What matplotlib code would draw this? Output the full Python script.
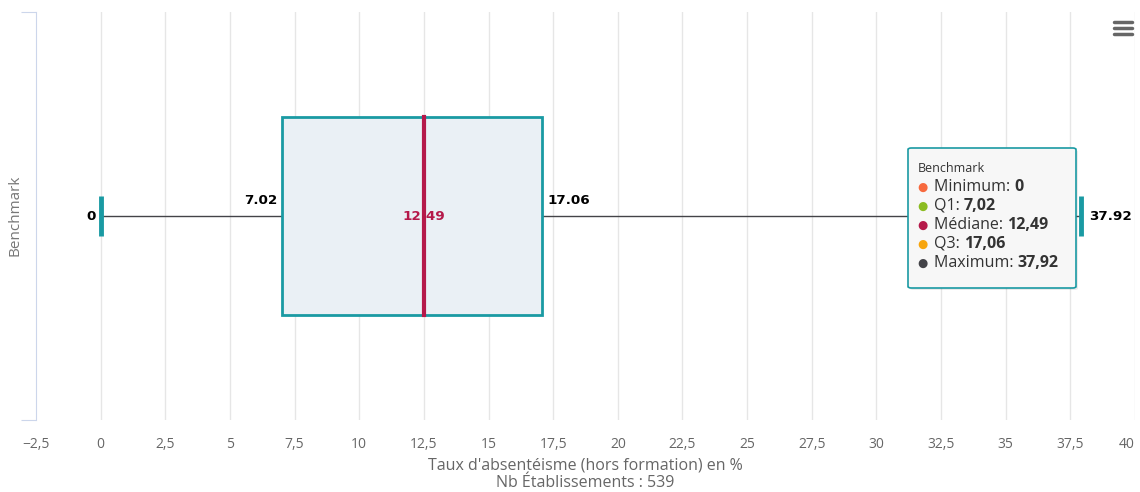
import matplotlib.pyplot as plt
from matplotlib.patches import FancyBboxPatch, Rectangle

plt.rcParams["font.family"] = ["Open Sans", "DejaVu Sans"]

category = "Benchmark"
stats_min = 0.0
stats_q1 = 7.02
stats_median = 12.49
stats_q3 = 17.06
stats_max = 37.92
nb_etablissements = 539

tooltip_names = ["Minimum", "Q1", "Médiane", "Q3", "Maximum"]
tooltip_values = ["0", "7,02", "12,49", "17,06", "37,92"]
tooltip_colors = ["#f7693e", "#8bbc21", "#b5194a", "#f7a50d", "#434348"]

xticks = [-2.5 + 2.5 * i for i in range(18)]

teal = "#1a9aa3"
W, H = 1140, 492
fig = plt.figure(figsize=(11.4, 4.92), dpi=100)
ax = fig.add_axes([36 / W, 1 - 420 / H, (1135 - 36) / W, 408 / H])

ax.set_xlim(-2.5, 40)
ax.set_ylim(-0.5, 0.5)

# grid verticale
for t in xticks[1:]:
    ax.axvline(t, color="#e6e6e6", lw=1, zorder=0)

box_h = 0.483
cap_h = 0.098
# moustaches
ax.plot([stats_min, stats_q1], [0, 0], color="#434348", lw=1, zorder=2)
ax.plot([stats_q3, stats_max], [0, 0], color="#434348", lw=1, zorder=2)
# boite
ax.add_patch(Rectangle((stats_q1, -box_h / 2), stats_q3 - stats_q1, box_h,
                       facecolor="#eaf0f5", edgecolor=teal, lw=2, zorder=3))
# mediane
ax.plot([stats_median, stats_median], [-box_h / 2, box_h / 2], color="#b5194a", lw=3, zorder=4)
# extremites
for v in (stats_min, stats_max):
    ax.plot([v, v], [-cap_h / 2, cap_h / 2], color=teal, lw=3.5, solid_capstyle="butt", zorder=4)

# etiquettes
lbl = dict(fontsize=9.7, fontweight="bold", color="black", family="DejaVu Sans", zorder=6)
ax.text(stats_min - 0.2, 0, f"{stats_min:g}", ha="right", va="center", **lbl)
ax.text(stats_q1 - 0.2, 0.037, f"{stats_q1:.2f}", ha="right", va="center", **lbl)
ax.text(stats_q3 + 0.2, 0.037, f"{stats_q3:.2f}", ha="left", va="center", **lbl)
ax.text(stats_max + 0.3, 0, f"{stats_max:.2f}", ha="left", va="center", **lbl)
ax.text(stats_median, 0, f"{stats_median:.2f}", ha="center", va="center",
        fontsize=9.7, fontweight="bold", color="#b5194a", family="DejaVu Sans", zorder=6)

# axes
for s in ("top", "right", "bottom"):
    ax.spines[s].set_visible(False)
ax.spines["left"].set_color("#ccd6eb")
ax.set_yticks([-0.5, 0.5])
ax.set_yticklabels([])
ax.tick_params(axis="y", length=11, color="#ccd6eb", direction="out")
ax.set_xticks(xticks)
ax.set_xticklabels([f"{t:g}".replace(".", ",").replace("-", "−") for t in xticks],
                   fontsize=10, color="#666666")
ax.get_xticklabels()[-1].set_horizontalalignment("right")
ax.tick_params(axis="x", length=0, pad=12)
ax.set_xlabel(f"Taux d'absentéisme (hors formation) en %\nNb Établissements : {nb_etablissements}",
              fontsize=11.5, color="#666666", labelpad=4, linespacing=1.15)
fig.text(15 / W, 1 - 215 / H, category, rotation=90, ha="center", va="center",
         fontsize=11, color="#777777")

# infobulle (ombre + cadre)
tx0, ty0, tw, th = 908, 148, 168, 140
fig.patches.append(FancyBboxPatch(((tx0 + 2) / W, 1 - (ty0 + th + 2) / H), tw / W, th / H,
                                  boxstyle="round,pad=0,rounding_size=0.003",
                                  transform=fig.transFigure, facecolor="#000000",
                                  edgecolor="none", alpha=0.08, zorder=9))
fig.patches.append(FancyBboxPatch((tx0 / W, 1 - (ty0 + th) / H), tw / W, th / H,
                                  boxstyle="round,pad=0,rounding_size=0.003",
                                  transform=fig.transFigure, facecolor="#f7f7f7",
                                  edgecolor=teal, lw=1.2, zorder=10))
fig.text((tx0 + 10) / W, 1 - 169 / H, category, fontsize=9, color="#333333",
         va="center", zorder=11)
for i, (n, v, c) in enumerate(zip(tooltip_names, tooltip_values, tooltip_colors)):
    yy = 1 - (187 + 19 * i) / H
    fig.text((tx0 + 9) / W, yy, "●", fontsize=8.5, color=c, va="center", zorder=11)
    t = fig.text((tx0 + 26) / W, yy, f"{n}: ", fontsize=11.5, color="#333333",
                 va="center", zorder=11)
    fig.canvas.draw()
    bb = t.get_window_extent()
    fig.text(bb.x1 / W, yy, v, fontsize=11.5, fontweight="bold", color="#333333",
             va="center", zorder=11)

# icone menu
for k in range(3):
    yy = 1 - (22 + 6 * k) / H
    fig.add_artist(plt.Line2D([1114 / W, 1132 / W], [yy, yy], color="#666666",
                              lw=2.5, solid_capstyle="round", transform=fig.transFigure))

fig.savefig("out.png", dpi=100)
